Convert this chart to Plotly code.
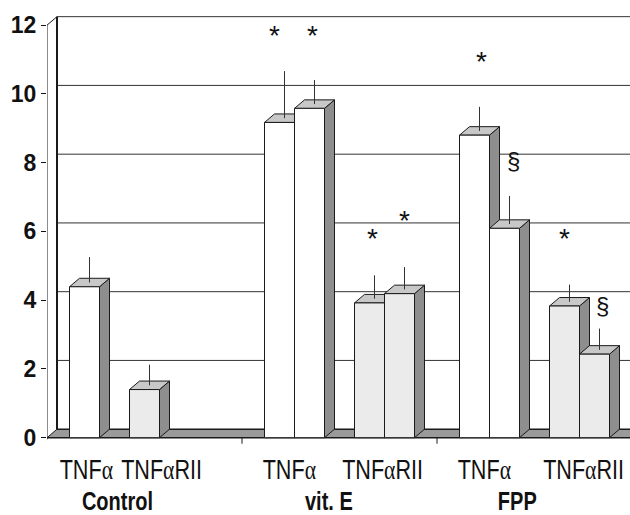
import plotly.graph_objects as go

# ---------------- data ----------------
groups = ["Control", "vit. E", "FPP"]
bar_group = [0, 0, 1, 1, 1, 1, 2, 2, 2, 2]
bar_slot = [0, 2, 0, 1, 3, 4, 0, 1, 3, 4]
bar_kind = ["TNFα", "TNFαRII", "TNFα", "TNFα", "TNFαRII", "TNFαRII",
            "TNFα", "TNFα", "TNFαRII", "TNFαRII"]
values = [4.39, 1.40, 9.17, 9.58, 3.92, 4.19, 8.80, 6.09, 3.83, 2.43]
errors = [0.74, 0.60, 1.37, 0.70, 0.68, 0.65, 0.70, 0.82, 0.50, 0.62]
sig_marks = ["", "", "*", "*", "*", "*", "*", "§", "*", "§"]
y_ticks = [0, 2, 4, 6, 8, 10, 12]
sub_labels = ["TNFα", "TNFαRII", "TNFα", "TNFαRII", "TNFα", "TNFαRII"]

# ---------------- layout constants ----------------
W, H = 630, 515
ML, MR, MT, MB = 47, 0, 13, 67
PX_X = 195.0            # px per category
XMAX = (W - ML - MR) / PX_X
YMIN, YMAX = -0.3, 12.354
PLOT_H = H - MT - MB
PX_Y = PLOT_H / (YMAX - YMIN)
DX = 10 / PX_X          # depth offset (x)
DY = 8.5 / PX_Y         # depth offset (y)
SLOT_W = 30 / PX_X
SLOT_0 = 22.5 / PX_X

# significance mark positions (category units, value units)
SIG_POS = {2: (1.169, 11.71), 3: (1.364, 11.71), 4: (1.667, 5.80), 5: (1.831, 6.32),
           6: (2.226, 10.95), 7: (2.390, 8.07), 8: (2.656, 5.80), 9: (2.851, 3.85)}
SUB_X = [0.205, 0.5846, 1.246, 1.723, 2.241, 2.749]
GROUP_X = [0.364, 1.446, 2.415]
ROW1_PX, ROW2_PX = 470, 501


def paper_y(px):
    return (H - MB - px) / PLOT_H


FRONT_COL = {"TNFα": "#FFFFFF", "TNFαRII": "#EBEBEB"}
TOP_COL = "#C8C8C8"
SIDE_COL = "#8E8E8E"
FLOOR_COL = "#9A9A9A"
EDGE = "#1A1A1A"

fig = go.Figure()


def poly(xs, ys, fill, lw=1, lc=EDGE):
    fig.add_trace(go.Scatter(x=xs + [xs[0]], y=ys + [ys[0]], mode="lines", fill="toself",
                             fillcolor=fill, line=dict(color=lc, width=lw),
                             hoverinfo="skip", showlegend=False))


def line(xs, ys, lw=1, lc=EDGE):
    fig.add_trace(go.Scatter(x=xs, y=ys, mode="lines", line=dict(color=lc, width=lw),
                             hoverinfo="skip", showlegend=False))


top = max(y_ticks)
# back wall
poly([DX, XMAX + 0.1, XMAX + 0.1, DX], [DY, DY, top + DY, top + DY], "#FFFFFF", 0)
# gridlines on back wall
for t in y_ticks[1:]:
    line([DX, XMAX + 0.1], [t + DY, t + DY], 1, "#333333")
# left side wall
poly([0, DX, DX, 0], [0, DY, top + DY, top], "#FFFFFF", 0)
line([0, 0], [-0.05, top], 1)
line([0, DX], [top, top + DY], 1)
line([DX, DX], [DY, top + DY], 2)
# floor
poly([0, XMAX + 0.1, XMAX + 0.1, DX], [0, 0, DY, DY], FLOOR_COL, 0)
line([DX, XMAX + 0.1], [DY, DY], 1.5)
line([0, XMAX + 0.1], [0, 0], 1.5)
line([0, DX], [0, DY], 1)
# category ticks
for g in range(1, len(groups)):
    line([g, g], [0, -6 / PX_Y], 1)

# bars
for i, v in enumerate(values):
    x0 = bar_group[i] + SLOT_0 + bar_slot[i] * SLOT_W
    x1 = x0 + SLOT_W
    poly([x1, x1 + DX, x1 + DX, x1], [0, DY, v + DY, v], SIDE_COL)
    poly([x0, x1, x1 + DX, x0 + DX], [v, v, v + DY, v + DY], TOP_COL)
    poly([x0, x1, x1, x0], [0, 0, v, v], FRONT_COL[bar_kind[i]])
    xc = (x0 + x1) / 2 + DX / 2
    line([xc, xc], [v + DY / 2, v + errors[i] + DY / 2], 1, "#333333")

ann = []
for i, m in enumerate(sig_marks):
    if m:
        x, y = SIG_POS[i]
        ann.append(dict(x=x, y=y, xref="x", yref="y", text=m, showarrow=False,
                        font=dict(family="Liberation Sans, Arial", size=28 if m == "*" else 24,
                                  color="#111111"),
                        yanchor="middle", xanchor="center"))
LABEL_FONT = "Liberation Sans, Arial"
ALPHA = '<span style="font-family:Liberation Serif">α</span>'
for lab, x in zip(sub_labels, SUB_X):
    ann.append(dict(x=x, y=paper_y(ROW1_PX), xref="x", yref="paper",
                    text=lab.replace("α", ALPHA), showarrow=False,
                    font=dict(family=LABEL_FONT, size=27, color="#111111"),
                    yanchor="middle", xanchor="center"))
for lab, x in zip(groups, GROUP_X):
    ann.append(dict(x=x, y=paper_y(ROW2_PX), xref="x", yref="paper", text="<b>" + lab + "</b>",
                    showarrow=False, font=dict(family=LABEL_FONT, size=25, color="#111111"),
                    yanchor="middle", xanchor="center"))

fig.update_layout(
    width=W, height=H, margin=dict(l=ML, r=MR, t=MT, b=MB),
    paper_bgcolor="white", plot_bgcolor="white", showlegend=False,
    xaxis=dict(range=[0, XMAX], visible=False, fixedrange=True),
    yaxis=dict(range=[YMIN, YMAX], tickvals=y_ticks, ticktext=["<b>%d</b>" % t for t in y_ticks],
               ticks="outside", ticklen=5, tickcolor="#111111", tickwidth=1,
               showgrid=False, zeroline=False, showline=False, ticklabelstandoff=0,
               tickfont=dict(family="Liberation Sans, Arial", size=23, color="#111111"),
               fixedrange=True, automargin=False),
    annotations=ann,
)

# condensed look for the category labels (narrow typeface emulation)
post = """
document.body.style.margin='0';
document.body.style.overflow='hidden';
document.querySelectorAll('.annotation-text').forEach(function(t){
  if (/TNF|Control|vit|FPP/.test(t.textContent)) {
    t.style.transformBox='fill-box';
    t.style.transformOrigin='center';
    t.style.transform='scaleX(0.8)';
  }
});
"""
fig.write_html("out.html", post_script=post, config={"displayModeBar": False, "staticPlot": True})
